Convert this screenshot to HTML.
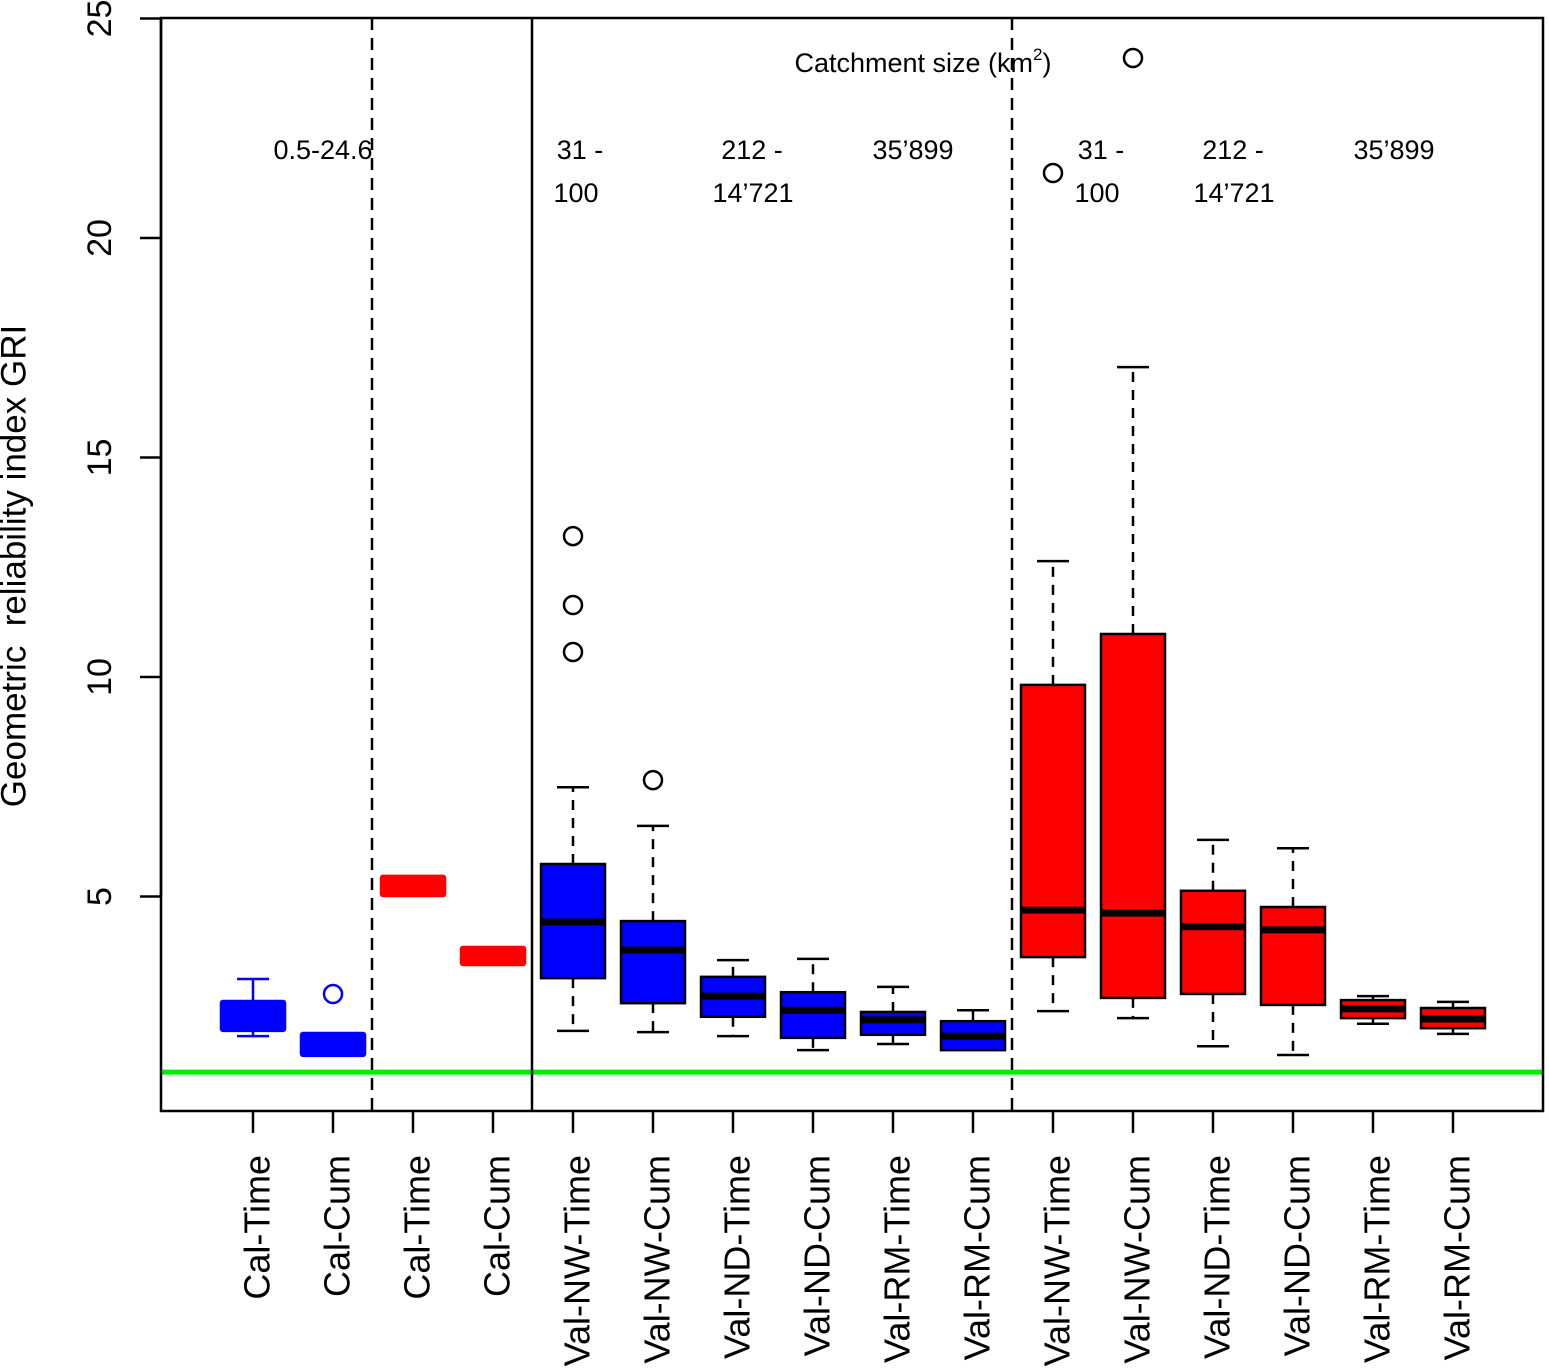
<!DOCTYPE html>
<html><head><meta charset="utf-8"><style>
html,body{margin:0;padding:0;background:#fff;}
svg{display:block;font-family:"Liberation Sans",Arial,sans-serif;}
</style></head><body>
<svg id="chart" width="1549" height="1371" viewBox="0 0 1549 1371" xmlns="http://www.w3.org/2000/svg"></svg>
<script>
const categories=["Cal-Time","Cal-Cum","Cal-Time","Cal-Cum","Val-NW-Time","Val-NW-Cum","Val-ND-Time","Val-ND-Cum","Val-RM-Time","Val-RM-Cum","Val-NW-Time","Val-NW-Cum","Val-ND-Time","Val-ND-Cum","Val-RM-Time","Val-RM-Cum"];
const colors=["blue","blue","red","red","blue","blue","blue","blue","blue","blue","red","red","red","red","red","red"];
const lowWhisker=[1.82,1.37,5.01,3.44,1.94,1.91,1.82,1.5,1.64,1.5,2.39,2.23,1.59,1.39,2.1,1.87];
const q1=[1.94,1.37,5.01,3.44,3.14,2.57,2.26,1.78,1.85,1.5,3.62,2.69,2.78,2.53,2.23,2.0];
const median=[2.28,1.62,5.24,3.64,4.42,3.78,2.73,2.41,2.19,1.82,4.69,4.62,4.31,4.24,2.44,2.21];
const q3=[2.62,1.89,5.47,3.85,5.74,4.44,3.17,2.82,2.37,2.16,9.82,10.98,5.13,4.76,2.64,2.46];
const highWhisker=[3.12,1.89,5.47,3.85,7.49,6.61,3.55,3.58,2.94,2.41,12.64,17.06,6.29,6.1,2.73,2.6];
const outliers=[[],[2.78],[],[],[10.57,11.64,13.21],[7.65],[],[],[],[],[21.48],[24.1],[],[],[],[]];
const yTicks=[5,10,15,20,25];
const refLine=1.0;

const svg=document.getElementById('chart');
const NS='http://www.w3.org/2000/svg';
const PL=161,PR=1543,PT=18,PB=1111;
const y=v=>1116-v*43.9;
const x=i=>253+i*80;
function mk(tag,attrs,parent){const e=document.createElementNS(NS,tag);for(const k in attrs)e.setAttribute(k,attrs[k]);(parent||svg).appendChild(e);return e;}
function txt(s,attrs){const t=mk('text',attrs);t.textContent=s;return t;}

const gl=mk('line',{x1:PL,x2:PR,y1:y(refLine),y2:y(refLine),stroke:'#00ee00','stroke-width':5});



[[372,true],[532,false],[1012,true]].forEach(([sx,d])=>{
 const l=mk('line',{x1:sx,x2:sx,y1:PT,y2:PB,stroke:'#000','stroke-width':2.5});
 if(d)l.setAttribute('stroke-dasharray','12 8');
 
 
});

categories.forEach((c,i)=>{
 const g=mk('g',{});
 
 
 const cx=x(i),hw=32,col=colors[i],cal=i<4;
 const sc=cal?col:'#000';
 const dash=cal?'':'10 8';
 const w1=mk('line',{x1:cx,x2:cx,y1:y(q3[i]),y2:y(highWhisker[i]),stroke:sc,'stroke-width':2.5},g);
 if(dash)w1.setAttribute('stroke-dasharray',dash);
 const w2=mk('line',{x1:cx,x2:cx,y1:y(q1[i]),y2:y(lowWhisker[i]),stroke:sc,'stroke-width':2.5},g);
 if(dash)w2.setAttribute('stroke-dasharray',dash);
 if(highWhisker[i]>q3[i])mk('line',{x1:cx-16,x2:cx+16,y1:y(highWhisker[i]),y2:y(highWhisker[i]),stroke:sc,'stroke-width':2.5},g);
 if(lowWhisker[i]<q1[i])mk('line',{x1:cx-16,x2:cx+16,y1:y(lowWhisker[i]),y2:y(lowWhisker[i]),stroke:sc,'stroke-width':2.5},g);
 mk('rect',{x:cx-hw,y:y(q3[i]),width:hw*2,height:y(q1[i])-y(q3[i]),fill:col,stroke:sc,'stroke-width':2.5,rx:cal?2:0},g);
 mk('line',{x1:cx-hw,x2:cx+hw,y1:y(median[i]),y2:y(median[i]),stroke:cal?col:'#000','stroke-width':7},g);
 outliers[i].forEach(o=>{
  const c2=mk('circle',{cx:cx,cy:y(o),r:9,fill:'none',stroke:sc,'stroke-width':2.5},g);
  
  
 });
 mk('line',{x1:cx,x2:cx,y1:PB,y2:PB+22,stroke:'#000','stroke-width':2.5});
 const t=txt(c,{x:0,y:0,'font-size':36,'text-anchor':'end','dominant-baseline':'central',transform:`translate(${cx+4},1155) rotate(-90)`});
 
 
});

const fr=mk('rect',{x:PL,y:PT,width:PR-PL,height:PB-PT,fill:'none',stroke:'#000','stroke-width':2.5});



mk('line',{x1:PL,x2:PL,y1:y(5),y2:y(25),stroke:'#000','stroke-width':2.5});
yTicks.forEach(v=>{
 mk('line',{x1:PL-21,x2:PL,y1:y(v),y2:y(v),stroke:'#000','stroke-width':2.5});
 const t=txt(String(v),{x:0,y:0,'font-size':34,'text-anchor':'middle','dominant-baseline':'central',transform:`translate(100,${y(v)}) rotate(-90)`});
 
 
});
const yt=txt('Geometric\u00a0\u00a0reliability index GRI',{x:0,y:0,'font-size':35,'text-anchor':'middle','dominant-baseline':'central',transform:'translate(14,566) rotate(-90)'});



const ann=[['0.5-24.6',323,150],['31 -',580,150],['100',576,193],['212 -',752,150],['14\u2019721',753,193],['35\u2019899',913,150],
['31 -',1101,150],['100',1097,193],['212 -',1233,150],['14\u2019721',1234,193],['35\u2019899',1394,150]];
ann.forEach(([s,ax,ay])=>{
 const t=txt(s,{x:ax,y:ay,'font-size':27,'text-anchor':'middle','dominant-baseline':'central'});
 
 
});
const ct=mk('text',{x:923,y:72,'font-size':27,'text-anchor':'middle'});
ct.innerHTML='Catchment size (km<tspan dy="-12" font-size="17">2</tspan><tspan dy="12">)</tspan>';


</script>
</body></html>
